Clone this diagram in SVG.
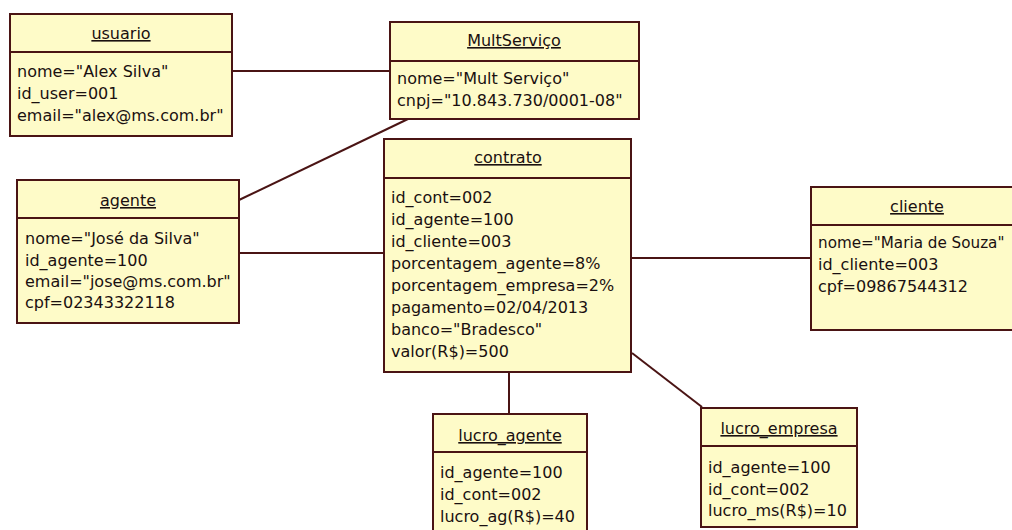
<svg xmlns="http://www.w3.org/2000/svg" width="1012" height="530" viewBox="0 0 1012 530">
<style>
.box{fill:#fefbc8;stroke:#4a1414;stroke-width:2}
.div{stroke:#4a1414;stroke-width:2}
.t{font-family:"DejaVu Sans",sans-serif;font-size:16px;fill:#1a1010}
.h{text-anchor:middle;text-decoration:underline}
.c{stroke:#4a1414;stroke-width:2;fill:none}
</style>
<rect width="1012" height="530" fill="#ffffff"/>
<g id="connectors">
<line class="c" x1="232" y1="71" x2="390" y2="71"/>
<line class="c" x1="408" y1="119" x2="239" y2="200"/>
<line class="c" x1="239" y1="253" x2="384" y2="253"/>
<line class="c" x1="630" y1="258" x2="811" y2="258"/>
<line class="c" x1="509" y1="371" x2="509" y2="414"/>
<line class="c" x1="632" y1="353" x2="702" y2="407"/>
</g>
<g id="usuario">
<rect class="box" x="10" y="14" width="222" height="122"/>
<line class="div" x1="10" y1="52" x2="232" y2="52"/>
<text class="t h" x="121" y="39">usuario</text>
<text class="t" x="17" y="77">nome="Alex Silva"</text>
<text class="t" x="17" y="99">id_user=001</text>
<text class="t" x="17" y="121">email="alex@ms.com.br"</text>
</g>
<g id="MultServico">
<rect class="box" x="390" y="22" width="249" height="97"/>
<line class="div" x1="390" y1="61" x2="639" y2="61"/>
<text class="t h" x="514" y="46">MultServiço</text>
<text class="t" x="397" y="84">nome="Mult Serviço"</text>
<text class="t" x="397" y="106">cnpj="10.843.730/0001-08"</text>
</g>
<g id="agente">
<rect class="box" x="17" y="180" width="222" height="143"/>
<line class="div" x1="17" y1="218" x2="239" y2="218"/>
<text class="t h" x="128" y="206">agente</text>
<text class="t" x="25" y="244">nome="José da Silva"</text>
<text class="t" x="25" y="266">id_agente=100</text>
<text class="t" x="25" y="287">email="jose@ms.com.br"</text>
<text class="t" x="25" y="308">cpf=02343322118</text>
</g>
<g id="contrato">
<rect class="box" x="384" y="139" width="247" height="233"/>
<line class="div" x1="384" y1="178" x2="631" y2="178"/>
<text class="t h" x="508" y="163">contrato</text>
<text class="t" x="391" y="203">id_cont=002</text>
<text class="t" x="391" y="225">id_agente=100</text>
<text class="t" x="391" y="247">id_cliente=003</text>
<text class="t" x="391" y="269">porcentagem_agente=8%</text>
<text class="t" x="391" y="291">porcentagem_empresa=2%</text>
<text class="t" x="391" y="313">pagamento=02/04/2013</text>
<text class="t" x="391" y="335">banco="Bradesco"</text>
<text class="t" x="391" y="357">valor(R$)=500</text>
</g>
<g id="cliente">
<rect class="box" x="811" y="187" width="212" height="143"/>
<line class="div" x1="811" y1="225" x2="1023" y2="225"/>
<text class="t h" x="917" y="212">cliente</text>
<text class="t" x="818" y="248" style="font-size:15.2px">nome="Maria de Souza"</text>
<text class="t" x="818" y="270">id_cliente=003</text>
<text class="t" x="818" y="292">cpf=09867544312</text>
</g>
<g id="lucro_agente">
<rect class="box" x="433" y="414" width="154" height="124"/>
<line class="div" x1="433" y1="452" x2="587" y2="452"/>
<text class="t h" x="510" y="441">lucro_agente</text>
<text class="t" x="440" y="478">id_agente=100</text>
<text class="t" x="440" y="500">id_cont=002</text>
<text class="t" x="440" y="522">lucro_ag(R$)=40</text>
</g>
<g id="lucro_empresa">
<rect class="box" x="701" y="408" width="156" height="119"/>
<line class="div" x1="701" y1="446" x2="857" y2="446"/>
<text class="t h" x="779" y="434">lucro_empresa</text>
<text class="t" x="708" y="473">id_agente=100</text>
<text class="t" x="708" y="495">id_cont=002</text>
<text class="t" x="708" y="516">lucro_ms(R$)=10</text>
</g>
</svg>
